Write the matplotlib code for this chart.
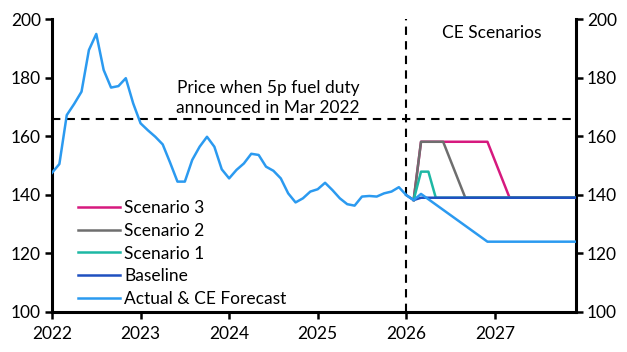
import matplotlib
matplotlib.use("Agg")
import matplotlib.pyplot as plt

plt.rcParams['font.family'] = ['Lato', 'DejaVu Sans']

# Data (month index: 0 = Jan 2022)
actual_months = list(range(0, 51))
actual_values = [147.5, 150.5, 167.2, 171.0, 175.2, 189.4, 194.9, 182.6, 176.6, 177.1,
                 179.8, 171.2, 164.4, 162.0, 159.8, 157.2, 151.0, 144.5, 144.5, 151.9,
                 156.4, 159.8, 156.4, 148.7, 145.6, 148.5, 150.7, 154.0, 153.6, 149.6,
                 148.2, 145.6, 140.5, 137.4, 138.8, 141.1, 141.9, 144.1, 141.6, 138.8,
                 136.8, 136.3, 139.4, 139.6, 139.4, 140.5, 141.1, 142.6, 139.9, 138.2,
                 140.3]
forecast_months = [50, 59, 71]
forecast_values = [140.3, 124.0, 124.0]

baseline_months = [48, 49, 50, 71]
baseline_values = [139.9, 138.2, 139.0, 139.0]

s1_months = [49, 50, 51, 52, 71]
s1_values = [138.2, 147.9, 147.9, 139.0, 139.0]

s2_months = [49, 50, 53, 56, 71]
s2_values = [138.2, 158.1, 158.1, 139.0, 139.0]

s3_months = [49, 50, 59, 62, 71]
s3_values = [138.2, 158.1, 158.1, 139.0, 139.0]

tick_months = [0, 12, 24, 36, 48, 60]
tick_labels = ['2022', '2023', '2024', '2025', '2026', '2027']
yticks = [100, 120, 140, 160, 180, 200]

mar2022_price = 165.9
scenario_start = 48

c_s3 = '#D6197E'
c_s2 = '#6E6E6E'
c_s1 = '#1DB8A4'
c_base = '#1F50C0'
c_act = '#2B9AF0'

fig = plt.figure(figsize=(6.27, 3.52), dpi=100)
ax = fig.add_axes([52/627, 1-312/352, 524/627, 293/352])

lw = 1.8
ax.plot(s3_months, s3_values, color=c_s3, lw=lw, label='Scenario 3', zorder=2)
ax.plot(s2_months, s2_values, color=c_s2, lw=lw, label='Scenario 2', zorder=3)
ax.plot(s1_months, s1_values, color=c_s1, lw=lw, label='Scenario 1', zorder=4)
ax.plot(baseline_months, baseline_values, color=c_base, lw=lw, label='Baseline', zorder=5)
ax.plot(actual_months + forecast_months[1:], actual_values + forecast_values[1:],
        color=c_act, lw=lw, label='Actual & CE Forecast', zorder=6)

ax.axhline(mar2022_price, color='black', lw=1.5, ls=(0, (4, 3)), zorder=1)
ax.axvline(scenario_start, color='black', lw=1.5, ls=(0, (4, 3)), zorder=1)

ax.set_xlim(0, 71)
ax.set_ylim(100, 200)
ax.set_xticks(tick_months)
ax.set_xticklabels(tick_labels)
ax.set_yticks(yticks)
ax.tick_params(axis='both', labelsize=12.5, length=5, width=1.8, direction='out', pad=3)
ax.tick_params(axis='x', pad=5)
ax.tick_params(axis='y', which='both', left=True, right=True, labelleft=True, labelright=True)

for s in ['left', 'right', 'bottom']:
    ax.spines[s].set_linewidth(2.2)
ax.spines['top'].set_visible(False)

ax.text(29.3, 167.0, 'Price when 5p fuel duty\nannounced in Mar 2022', ha='center', va='bottom',
        fontsize=12.5, linespacing=1.3)
ax.text(59.6, 195.2, 'CE Scenarios', ha='center', va='center', fontsize=12.5)

leg = ax.legend(loc='lower left', bbox_to_anchor=(0.03, -0.02), frameon=False, fontsize=12.5,
                handlelength=2.4, handletextpad=0.25, labelspacing=0.4, borderaxespad=0.2)

fig.savefig('out.png', dpi=100)
